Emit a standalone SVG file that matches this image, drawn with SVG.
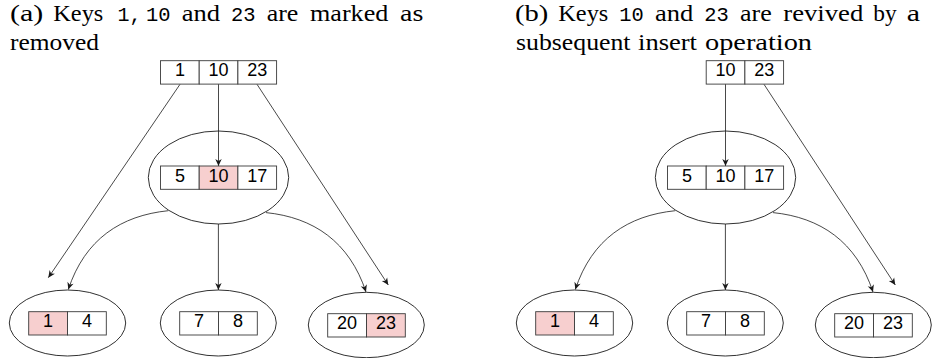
<svg xmlns="http://www.w3.org/2000/svg" width="935" height="358" viewBox="0 0 935 358">
  <style>
    .cap { font-family: "Liberation Serif", "Times New Roman", serif; font-size: 24px; fill: #000; }
    .tt { font-family: "Liberation Mono", "Courier New", monospace; font-size: 21px; fill: #000; }
    .cell { fill: #fff; stroke: #3a3a3a; stroke-width: 0.9; }
    .cell.hl { fill: #f7cfcf; }
    .key { font-family: "Liberation Sans", Arial, sans-serif; font-size: 18px; fill: #000; text-anchor: middle; }
    .ell { fill: none; stroke: #1a1a1a; stroke-width: 0.9; }
    .edge { fill: none; stroke: #1a1a1a; stroke-width: 0.8; marker-end: url(#tip); }
  </style>
  <defs>
    <marker id="tip" markerUnits="userSpaceOnUse" viewBox="-8 -4 9 8" refX="0" refY="0" markerWidth="9" markerHeight="8" orient="auto">
      <path d="M0,0 L-7,-3.2 L-5,0 L-7,3.2 Z" fill="#1a1a1a"/>
    </marker>
  </defs>

  <rect width="935" height="358" fill="#fff"/>

  <!-- captions: one text per word so each word keeps its justified slot -->
  <g id="caption-a">
    <text class="cap" x="10" y="21.3" textLength="33.3" lengthAdjust="spacingAndGlyphs">(a)</text>
    <text class="cap" x="53.3" y="21.3" textLength="50" lengthAdjust="spacingAndGlyphs">Keys</text>
    <text class="tt" x="117.5" y="21.3" textLength="24" lengthAdjust="spacingAndGlyphs">1,</text>
    <text class="tt" x="146" y="21.3" textLength="24.5" lengthAdjust="spacingAndGlyphs">10</text>
    <text class="cap" x="181.7" y="21.3" textLength="38.3" lengthAdjust="spacingAndGlyphs">and</text>
    <text class="tt" x="231" y="21.3" textLength="24.5" lengthAdjust="spacingAndGlyphs">23</text>
    <text class="cap" x="266.7" y="21.3" textLength="31.6" lengthAdjust="spacingAndGlyphs">are</text>
    <text class="cap" x="310" y="21.3" textLength="78.3" lengthAdjust="spacingAndGlyphs">marked</text>
    <text class="cap" x="400" y="21.3" textLength="23.3" lengthAdjust="spacingAndGlyphs">as</text>
    <text class="cap" x="10" y="49.5" textLength="89" lengthAdjust="spacingAndGlyphs">removed</text>
  </g>
  <g id="caption-b">
    <text class="cap" x="515" y="21.3" textLength="33.3" lengthAdjust="spacingAndGlyphs">(b)</text>
    <text class="cap" x="558.3" y="21.3" textLength="50" lengthAdjust="spacingAndGlyphs">Keys</text>
    <text class="tt" x="619.3" y="21.3" textLength="24.5" lengthAdjust="spacingAndGlyphs">10</text>
    <text class="cap" x="655" y="21.3" textLength="38.3" lengthAdjust="spacingAndGlyphs">and</text>
    <text class="tt" x="704.3" y="21.3" textLength="24.5" lengthAdjust="spacingAndGlyphs">23</text>
    <text class="cap" x="740" y="21.3" textLength="31.7" lengthAdjust="spacingAndGlyphs">are</text>
    <text class="cap" x="783.3" y="21.3" textLength="80" lengthAdjust="spacingAndGlyphs">revived</text>
    <text class="cap" x="873.3" y="21.3" textLength="23.4" lengthAdjust="spacingAndGlyphs">by</text>
    <text class="cap" x="906.7" y="21.3" textLength="13.3" lengthAdjust="spacingAndGlyphs">a</text>
    <text class="cap" x="516" y="49.5" textLength="114.5" lengthAdjust="spacingAndGlyphs">subsequent</text>
    <text class="cap" x="638" y="49.5" textLength="59" lengthAdjust="spacingAndGlyphs">insert</text>
    <text class="cap" x="705" y="49.5" textLength="107" lengthAdjust="spacingAndGlyphs">operation</text>
  </g>

  <!-- connectors -->
  <g id="connectors">
    <!-- tree (a) -->
    <line class="edge" x1="180" y1="84.3" x2="48.3" y2="277.7"/>
    <line class="edge" x1="218.5" y1="84.1" x2="218.5" y2="166"/>
    <line class="edge" x1="257" y1="84.3" x2="388.3" y2="285"/>
    <path class="edge" d="M168.3,210.7 C121,215.5 85,239 68.3,289.5"/>
    <line class="edge" x1="218.4" y1="224" x2="218.4" y2="290"/>
    <path class="edge" d="M266,212.6 C313.3,217.4 349.3,241.5 366,292"/>
    <!-- tree (b) -->
    <line class="edge" x1="725.5" y1="84.1" x2="725.5" y2="166"/>
    <line class="edge" x1="764" y1="84.3" x2="895.3" y2="285"/>
    <path class="edge" d="M675.3,210.7 C628,215.5 592,239 575.3,289.5"/>
    <line class="edge" x1="725.4" y1="224" x2="725.4" y2="290"/>
    <path class="edge" d="M773,212.6 C820.3,217.4 856.3,241.5 873,292"/>
  </g>

  <!-- tree (a) nodes -->
  <g id="a-root">
    <rect class="cell" x="160.5" y="60.7" width="38.7" height="23.4"/>
    <rect class="cell" x="199.2" y="60.7" width="38.7" height="23.4"/>
    <rect class="cell" x="237.9" y="60.7" width="38.7" height="23.4"/>
    <text class="key" x="179.9" y="76.2">1</text>
    <text class="key" x="218.6" y="76.2">10</text>
    <text class="key" x="257.3" y="76.2">23</text>
  </g>
  <g id="a-mid">
    <ellipse class="ell" cx="218.5" cy="177.5" rx="70.2" ry="46.5"/>
    <rect class="cell" x="160.5" y="166" width="38.7" height="23.3"/>
    <rect class="cell hl" x="199.2" y="166" width="38.7" height="23.3"/>
    <rect class="cell" x="237.9" y="166" width="38.7" height="23.3"/>
    <text class="key" x="179.9" y="181.5">5</text>
    <text class="key" x="218.6" y="181.5">10</text>
    <text class="key" x="257.3" y="181.5">17</text>
  </g>
  <g id="a-leaf1">
    <ellipse class="ell" cx="67.5" cy="323" rx="58.2" ry="33"/>
    <rect class="cell hl" x="28.7" y="311.7" width="38.8" height="23.3"/>
    <rect class="cell" x="67.5" y="311.7" width="38.8" height="23.3"/>
    <text class="key" x="48.1" y="327.4">1</text>
    <text class="key" x="86.9" y="327.4">4</text>
  </g>
  <g id="a-leaf2">
    <ellipse class="ell" cx="218.3" cy="323" rx="58" ry="33"/>
    <rect class="cell" x="179.7" y="311.7" width="38.8" height="23.3"/>
    <rect class="cell" x="218.5" y="311.7" width="38.8" height="23.3"/>
    <text class="key" x="199.1" y="327.4">7</text>
    <text class="key" x="237.9" y="327.4">8</text>
  </g>
  <g id="a-leaf3">
    <ellipse class="ell" cx="366.3" cy="325" rx="58" ry="32.7"/>
    <rect class="cell" x="327.7" y="313.7" width="38.8" height="23.3"/>
    <rect class="cell hl" x="366.5" y="313.7" width="38.8" height="23.3"/>
    <text class="key" x="347.1" y="329.4">20</text>
    <text class="key" x="385.9" y="329.4">23</text>
  </g>

  <!-- tree (b) nodes -->
  <g id="b-root">
    <rect class="cell" x="706.2" y="60.7" width="38.7" height="23.4"/>
    <rect class="cell" x="744.9" y="60.7" width="38.7" height="23.4"/>
    <text class="key" x="725.6" y="76.2">10</text>
    <text class="key" x="764.3" y="76.2">23</text>
  </g>
  <g id="b-mid">
    <ellipse class="ell" cx="725.5" cy="177.5" rx="70.2" ry="46.5"/>
    <rect class="cell" x="667.5" y="166" width="38.7" height="23.3"/>
    <rect class="cell" x="706.2" y="166" width="38.7" height="23.3"/>
    <rect class="cell" x="744.9" y="166" width="38.7" height="23.3"/>
    <text class="key" x="686.9" y="181.5">5</text>
    <text class="key" x="725.6" y="181.5">10</text>
    <text class="key" x="764.3" y="181.5">17</text>
  </g>
  <g id="b-leaf1">
    <ellipse class="ell" cx="574.5" cy="323" rx="58.2" ry="33"/>
    <rect class="cell hl" x="535.7" y="311.7" width="38.8" height="23.3"/>
    <rect class="cell" x="574.5" y="311.7" width="38.8" height="23.3"/>
    <text class="key" x="555.1" y="327.4">1</text>
    <text class="key" x="593.9" y="327.4">4</text>
  </g>
  <g id="b-leaf2">
    <ellipse class="ell" cx="725.3" cy="323" rx="58" ry="33"/>
    <rect class="cell" x="686.7" y="311.7" width="38.8" height="23.3"/>
    <rect class="cell" x="725.5" y="311.7" width="38.8" height="23.3"/>
    <text class="key" x="706.1" y="327.4">7</text>
    <text class="key" x="744.9" y="327.4">8</text>
  </g>
  <g id="b-leaf3">
    <ellipse class="ell" cx="873.3" cy="325" rx="58" ry="32.7"/>
    <rect class="cell" x="834.7" y="313.7" width="38.8" height="23.3"/>
    <rect class="cell" x="873.5" y="313.7" width="38.8" height="23.3"/>
    <text class="key" x="854.1" y="329.4">20</text>
    <text class="key" x="892.9" y="329.4">23</text>
  </g>
</svg>
